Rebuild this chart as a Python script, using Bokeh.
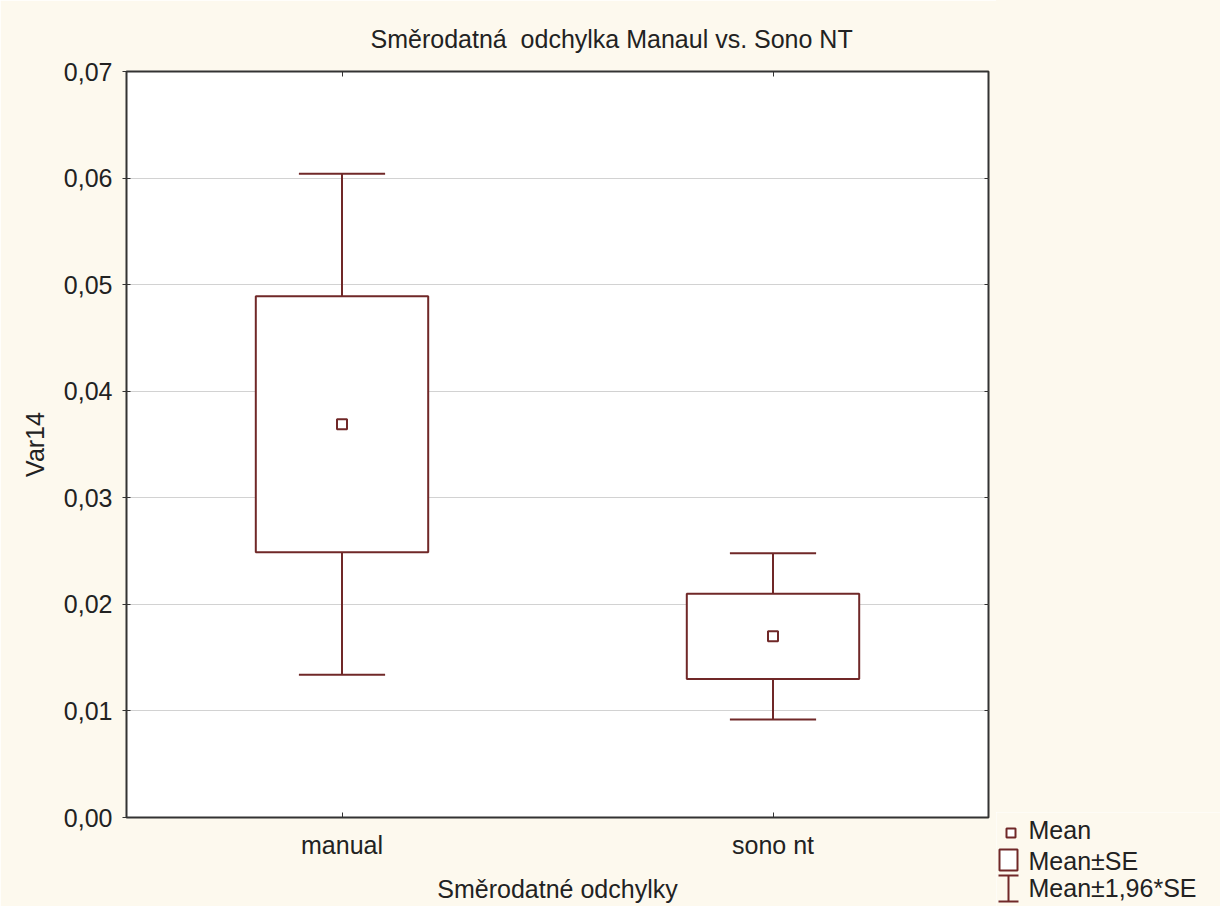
from bokeh.plotting import figure
from bokeh.layouts import row, column
from bokeh.models import (ColumnDataSource, FactorRange, Range1d, FixedTicker, LinearAxis,
                          CategoricalAxis, Spacer)
from bokeh.core.properties import value
from bokeh.transform import dodge
from bokeh.embed import file_html
from bokeh.resources import INLINE

# ---- data ----
categories = ["manual", "sono nt"]
means = [0.0369, 0.0170]
se = [0.0120, 0.0040]
ci_lower = [0.0134, 0.0092]
ci_upper = [0.0604, 0.0248]
y_ticks = [0.00, 0.01, 0.02, 0.03, 0.04, 0.05, 0.06, 0.07]
y_tick_labels = ["0,00", "0,01", "0,02", "0,03", "0,04", "0,05", "0,06", "0,07"]

title_text = "Směrodatná\u00a0 odchylka Manaul vs. Sono NT"
x_label = "Směrodatné odchylky"
y_label = "Var14"
legend_labels = ["Mean", "Mean±SE", "Mean±1,96*SE"]

# ---- styling ----
LINE = "#702828"
TEXT = "#222222"
BG = "#fdf9ee"
FONT = "Liberation Sans"
FS = "25px"

src = ColumnDataSource(dict(
    cat=categories,
    mean=means,
    box_top=[m + s for m, s in zip(means, se)],
    box_bot=[m - s for m, s in zip(means, se)],
    lo=ci_lower,
    hi=ci_upper,
))

MAIN_W, H = 996, 906
p = figure(width=MAIN_W, height=H, x_range=FactorRange(factors=categories),
           y_range=Range1d(0, 0.07), output_backend="svg", toolbar_location=None,
           min_border_left=126, min_border_right=8, min_border_top=71, min_border_bottom=89)
p.background_fill_color = "white"
p.border_fill_color = BG
p.outline_line_color = "#333333"
p.outline_line_width = 2

# title
p.title.text = title_text
p.title.align = "left"
p.title.offset = 244
p.title.text_font = FONT
p.title.text_font_size = FS
p.title.text_font_style = "normal"
p.title.text_color = TEXT
p.title.standoff = 38

# grid
p.xgrid.visible = False
p.ygrid.ticker = FixedTicker(ticks=y_ticks)
p.ygrid.grid_line_color = "#d2d2d2"
p.ygrid.grid_line_width = 1

# axes
ya = p.yaxis[0]
ya.ticker = FixedTicker(ticks=y_ticks)
ya.major_label_overrides = {t: l for t, l in zip(y_ticks, y_tick_labels)}
ya.axis_line_color = None
ya.major_tick_in = 4
ya.major_tick_out = 4
ya.major_tick_line_color = "#333333"
ya.minor_tick_line_color = None
ya.major_label_standoff = 10
ya.major_label_text_font = FONT
ya.major_label_text_font_size = FS
ya.major_label_text_color = TEXT
ya.axis_label = y_label
ya.axis_label_text_font = FONT
ya.axis_label_text_font_size = FS
ya.axis_label_text_font_style = "normal"
ya.axis_label_text_color = TEXT
ya.axis_label_standoff = 12

xa = p.xaxis[0]
xa.axis_line_color = None
xa.major_tick_in = 5
xa.major_tick_out = 0
xa.major_tick_line_color = "#333333"
xa.major_label_standoff = 13
xa.major_label_text_font = FONT
xa.major_label_text_font_size = FS
xa.major_label_text_color = TEXT
xa.axis_label = x_label
xa.axis_label_text_font = FONT
xa.axis_label_text_font_size = FS
xa.axis_label_text_font_style = "normal"
xa.axis_label_text_color = TEXT
xa.axis_label_standoff = 13

top_ax = CategoricalAxis(axis_line_color=None, major_tick_in=5, major_tick_out=0,
                         major_tick_line_color="#333333", major_label_text_font_size="1px",
                         major_label_text_color=None, major_label_standoff=0)
p.add_layout(top_ax, "above")
right_ax = LinearAxis(ticker=FixedTicker(ticks=y_ticks), axis_line_color=None, major_tick_in=4,
                      major_tick_out=0, major_tick_line_color="#333333",
                      major_label_text_font_size="1px", major_label_text_color=None,
                      major_label_standoff=0, minor_tick_line_color=None)
p.add_layout(right_ax, "right")

# whiskers (vertical stems)
p.segment(x0="cat", y0="box_top", x1="cat", y1="hi", source=src, line_color=LINE, line_width=2)
p.segment(x0="cat", y0="box_bot", x1="cat", y1="lo", source=src, line_color=LINE, line_width=2)
# caps
p.segment(x0=dodge("cat", -0.1, range=p.x_range), y0="hi",
          x1=dodge("cat", 0.1, range=p.x_range), y1="hi", source=src, line_color=LINE, line_width=2)
p.segment(x0=dodge("cat", -0.1, range=p.x_range), y0="lo",
          x1=dodge("cat", 0.1, range=p.x_range), y1="lo", source=src, line_color=LINE, line_width=2)
# boxes
p.vbar(x="cat", width=0.4, top="box_top", bottom="box_bot", source=src,
       fill_color="white", line_color=LINE, line_width=2)
# means
p.scatter(x="cat", y="mean", source=src, marker="square", size=10,
          fill_color="white", line_color=LINE, line_width=2)

# ---- legend drawn in a small pixel-scaled figure at the bottom right ----
LEG_W, LEG_H, LEG_TOP = 224, 94, 812
leg = figure(width=LEG_W, height=LEG_H, x_range=Range1d(0, LEG_W), y_range=Range1d(LEG_H, 0),
             output_backend="svg", toolbar_location=None, x_axis_type=None, y_axis_type=None,
             min_border=0)
leg.outline_line_color = None
leg.background_fill_color = BG
leg.border_fill_color = BG
leg.xgrid.visible = False
leg.ygrid.visible = False

# icons
leg.quad(left=[10], right=[19], top=[16], bottom=[25], fill_color="white", line_color=LINE, line_width=2)
leg.quad(left=[3], right=[21], top=[37], bottom=[58], fill_color="white", line_color=LINE, line_width=2)
leg.segment(x0=[12, 2, 2], y0=[63, 63, 89], x1=[12, 22, 22], y1=[89, 63, 89],
            line_color=LINE, line_width=2)
# labels
leg.text(x=[32, 32, 32], y=[17, 48, 75], text=legend_labels, text_align="left",
         text_baseline="middle", text_font=value(FONT), text_font_size=FS, text_color=TEXT)

layout = row(p, column(Spacer(width=LEG_W, height=LEG_TOP, styles={"background": BG}), leg))

html = file_html(layout, INLINE)
html = html.replace("<body>", '<body style="background:%s">' % BG, 1)
open("out.html", "w").write(html)
